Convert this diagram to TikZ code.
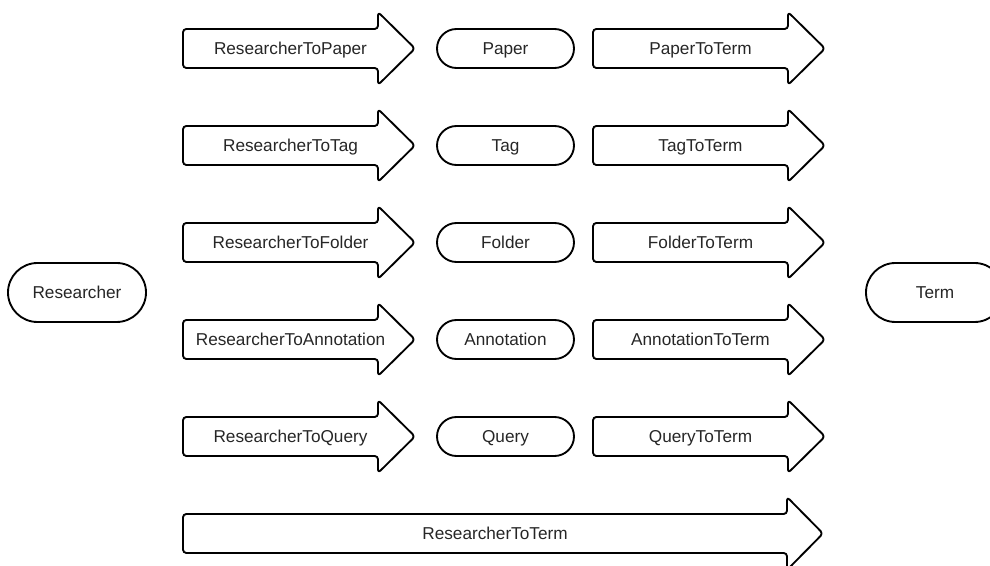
\documentclass[tikz,border=0pt]{standalone}
\usepackage{fontspec}
\setmainfont{Liberation Sans}
\usetikzlibrary{shapes.misc}

\tikzset{
  outline/.style={draw=black, line width=1.4pt, line join=round},
  txt/.style={font=\fontsize{12.9}{15}\selectfont, text=black!85},
  lbl/.style={txt, inner sep=0pt, anchor=base},
  stadium/.style={outline, txt, rounded rectangle, inner sep=0pt,
    text height=9.2pt, text depth=0pt,
    minimum width=102.75pt, minimum height=29.25pt},
  endpoint/.style={stadium, minimum width=103.5pt, minimum height=44.25pt},
}

% block arrow: #1 label name, #2 left x, #3 head base x, #4 tip x, #5 centre y, #6 text
\newcommand\blockarrow[6]{%
  \draw[outline, rounded corners=2.5pt]
    (#2,#5) -- (#2,#5-19.5) -- (#3,#5-19.5) -- (#3,#5-36.5) -- (#4,#5)
    -- (#3,#5+36.5) -- (#3,#5+19.5) -- (#2,#5+19.5) -- cycle;
  \node[lbl] (#1) at ({(#2+#3)/2+10},#5+6) {#6};%
}

\begin{document}
\begin{tikzpicture}[x=0.75pt, y=-0.75pt]
  \useasboundingbox (0,0) rectangle (990,566);

  % end points
  \node[endpoint] (researcher) at (77,292.5) {Researcher};
  \node[endpoint] (term) at (935,292.5) {Term};

  % intermediate entities
  \node[stadium] (paper)      at (505.5,48.5)  {Paper};
  \node[stadium] (tag)        at (505.5,145.5) {Tag};
  \node[stadium] (folder)     at (505.5,242.5) {Folder};
  \node[stadium] (annotation) at (505.5,339.5) {Annotation};
  \node[stadium] (query)      at (505.5,436.5) {Query};

  % researcher-side relations
  \blockarrow{rpaper}{183}{378}{415}{48.5}{ResearcherToPaper}
  \blockarrow{rtag}{183}{378}{415}{145.5}{ResearcherToTag}
  \blockarrow{rfolder}{183}{378}{415}{242.5}{ResearcherToFolder}
  \blockarrow{rannot}{183}{378}{415}{339.5}{ResearcherToAnnotation}
  \blockarrow{rquery}{183}{378}{415}{436.5}{ResearcherToQuery}

  % term-side relations
  \blockarrow{pterm}{593}{788}{825}{48.5}{PaperToTerm}
  \blockarrow{tterm}{593}{788}{825}{145.5}{TagToTerm}
  \blockarrow{fterm}{593}{788}{825}{242.5}{FolderToTerm}
  \blockarrow{aterm}{593}{788}{825}{339.5}{AnnotationToTerm}
  \blockarrow{qterm}{593}{788}{825}{436.5}{QueryToTerm}

  % direct relation
  \blockarrow{rterm}{183}{787}{823}{533.5}{ResearcherToTerm}
\end{tikzpicture}
\end{document}
